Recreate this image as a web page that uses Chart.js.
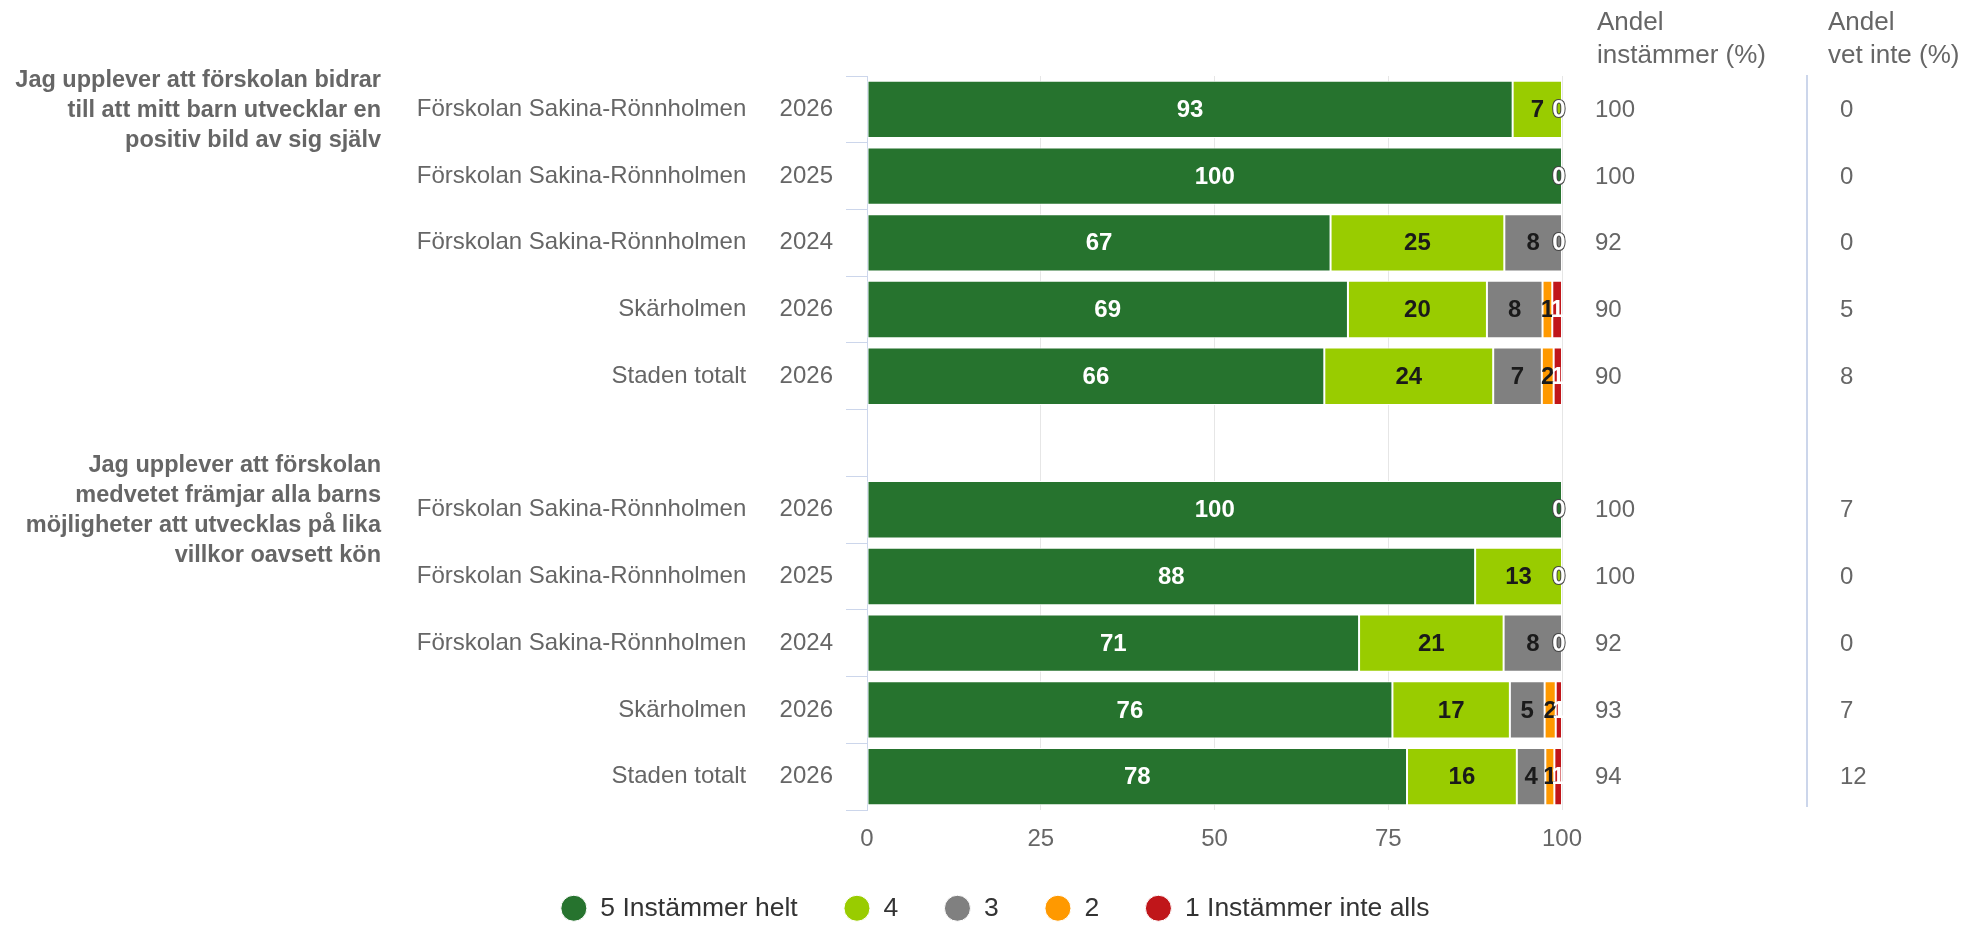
<!DOCTYPE html>
<html lang="sv">
<head>
<meta charset="utf-8">
<title>Enkät förskola</title>
<script src="https://cdn.jsdelivr.net/npm/chart.js@4/dist/chart.umd.min.js"></script>
<style>
  html, body { margin: 0; padding: 0; background: #fff; }
  #wrap { width: 1970px; height: 927px; position: relative; }
</style>
</head>
<body>
<div id="wrap"><canvas id="chart"></canvas></div>
<script>
// rader (tom rad mellan frågorna)
var categories = [
  'Förskolan Sakina-Rönnholmen', 'Förskolan Sakina-Rönnholmen', 'Förskolan Sakina-Rönnholmen',
  'Skärholmen', 'Staden totalt', '',
  'Förskolan Sakina-Rönnholmen', 'Förskolan Sakina-Rönnholmen', 'Förskolan Sakina-Rönnholmen',
  'Skärholmen', 'Staden totalt'
];
var years = ['2026', '2025', '2024', '2026', '2026', '', '2026', '2025', '2024', '2026', '2026'];

var seriesNames = ['5 Instämmer helt', '4', '3', '2', '1 Instämmer inte alls'];
var seriesColors = ['#26732e', '#99cc00', '#808080', '#ff9900', '#c0161a'];

// andelar (%) per svarsalternativ
var helt  = [92.9, 100, 66.7, 69.2, 65.8, null, 100, 87.5, 70.8, 75.6, 77.7];
var fyra  = [7.1, 0, 25.0, 20.0, 24.3, null, 0, 12.5, 20.8, 16.9, 15.8];
var tre   = [0, 0, 8.3, 8.0, 7.0, null, 0, 0, 8.4, 5.0, 4.1];
var tva   = [0, 0, 0, 1.4, 1.7, null, 0, 0, 0, 1.6, 1.3];
var ett   = [0, 0, 0, 1.4, 1.2, null, 0, 0, 0, 0.9, 1.1];

var andelInstammer = [100, 100, 92, 90, 90, null, 100, 100, 92, 93, 94];
var andelVetInte   = [0, 0, 0, 5, 8, null, 7, 0, 0, 7, 12];

var xTicks = [0, 25, 50, 75, 100];

var groupTitles = [
  ['Jag upplever att förskolan bidrar', 'till att mitt barn utvecklar en', 'positiv bild av sig själv'],
  ['Jag upplever att förskolan', 'medvetet främjar alla barns', 'möjligheter att utvecklas på lika', 'villkor oavsett kön']
];
var groupFirstRow = [0, 6];

var FONT = '"Liberation Sans", Arial, Helvetica, sans-serif';

// etiketter i staplarna + sidokolumner + frågetexter
var extrasPlugin = {
  id: 'extras',
  afterDatasetsDraw: function (chart) {
    var ctx = chart.ctx;
    ctx.save();
    ctx.textBaseline = 'middle';
    ctx.textAlign = 'center';
    ctx.font = 'bold 24px ' + FONT;
    chart.data.datasets.forEach(function (ds, di) {
      var meta = chart.getDatasetMeta(di);
      meta.data.forEach(function (bar, i) {
        var v = ds.data[i];
        if (v === null) return;
        if (v > 0) {
          ctx.fillStyle = (di === 0 || di === 4) ? '#ffffff' : '#1a1a1a';
          ctx.fillText(String(Math.round(v)), (bar.x + bar.base) / 2, bar.y + 1);
        } else if (di === 4) {
          ctx.lineWidth = 2;
          ctx.strokeStyle = '#444';
          ctx.strokeText('0', bar.x - 3, bar.y + 1);
          ctx.fillStyle = '#ffffff';
          ctx.fillText('0', bar.x - 3, bar.y + 1);
        }
      });
    });
    ctx.restore();
  },
  afterDraw: function (chart) {
    var ctx = chart.ctx;
    var area = chart.chartArea;
    var yScale = chart.scales.y;
    var col1 = area.right + 35;
    var sep = area.right + 245;
    var col2 = area.right + 278;
    ctx.save();
    ctx.textBaseline = 'middle';
    ctx.textAlign = 'left';
    ctx.fillStyle = '#666666';

    // rubriker
    ctx.font = '26px ' + FONT;
    ctx.fillText('Andel', col1, 22.5);
    ctx.fillText('instämmer (%)', col1, 56);
    ctx.fillText('Andel', col2 - 12, 22.5);
    ctx.fillText('vet inte (%)', col2 - 12, 56);

    // skiljelinje
    ctx.strokeStyle = '#ccd6eb';
    ctx.lineWidth = 2;
    ctx.beginPath();
    ctx.moveTo(sep, area.top - 1);
    ctx.lineTo(sep, area.bottom - 3);
    ctx.stroke();

    // värden
    ctx.font = '24px ' + FONT;
    for (var i = 0; i < categories.length; i++) {
      if (andelInstammer[i] === null) continue;
      var y = yScale.getPixelForValue(i) + 1;
      ctx.fillText(String(andelInstammer[i]), col1 - 2, y);
      ctx.fillText(String(andelVetInte[i]), col2, y);
    }

    // frågetexter
    ctx.font = 'bold 23.5px ' + FONT;
    ctx.textAlign = 'right';
    groupTitles.forEach(function (lines, g) {
      var c = yScale.getPixelForValue(groupFirstRow[g]) + 4.5 - lines.length;
      var start = c - (lines.length - 1) * 30 / 2;
      lines.forEach(function (t, k) {
        ctx.fillText(t, 381, start + k * 30);
      });
    });
    ctx.restore();
  }
};

var datasets = [helt, fyra, tre, tva, ett].map(function (vals, i) {
  return {
    label: seriesNames[i],
    data: vals,
    backgroundColor: seriesColors[i],
    borderColor: '#ffffff',
    borderWidth: 1,
    borderSkipped: false,
    categoryPercentage: 1,
    barPercentage: 0.86
  };
});

new Chart(document.getElementById('chart'), {
  type: 'bar',
  data: { labels: categories, datasets: datasets },
  plugins: [extrasPlugin],
  options: {
    indexAxis: 'y',
    responsive: true,
    maintainAspectRatio: false,
    animation: false,
    layout: { padding: { top: 76, left: 20, right: 0, bottom: -4.5 } },
    plugins: {
      tooltip: { enabled: false },
      legend: {
        position: 'bottom',
        labels: {
          usePointStyle: true,
          pointStyle: 'circle',
          boxHeight: 18.4,
          boxWidth: 26.5,
          padding: 46,
          color: '#333333',
          font: { family: FONT, size: 26.5 }
        }
      }
    },
    scales: {
      x: {
        type: 'linear',
        stacked: true,
        min: 0,
        max: 100,
        afterBuildTicks: function (s) { s.ticks = xTicks.map(function (v) { return { value: v }; }); },
        afterFit: function (s) { s.height = 39; },
        ticks: { color: '#666666', padding: 14.5, font: { family: FONT, size: 24 } },
        grid: { color: '#e6e6e6', lineWidth: 1, drawTicks: false },
        border: { display: false }
      },
      y: {
        type: 'category',
        stacked: true,
        afterFit: function (s) { s.width = 847; },
        ticks: {
          autoSkip: false,
          padding: 13,
          color: '#666666',
          font: { family: FONT, size: 24 },
          callback: function (v, i) {
            return categories[i] ? categories[i] + '     ' + years[i] : '';
          }
        },
        grid: { offset: true, drawOnChartArea: false, tickLength: 21, color: '#ccd6eb', lineWidth: 1 },
        border: { display: true, color: '#ccd6eb', width: 1 }
      },
      yRight: {
        type: 'category',
        position: 'right',
        display: true,
        afterFit: function (s) { s.width = 408; },
        ticks: { display: false },
        grid: { display: false },
        border: { display: false }
      }
    }
  }
});
</script>
</body>
</html>
